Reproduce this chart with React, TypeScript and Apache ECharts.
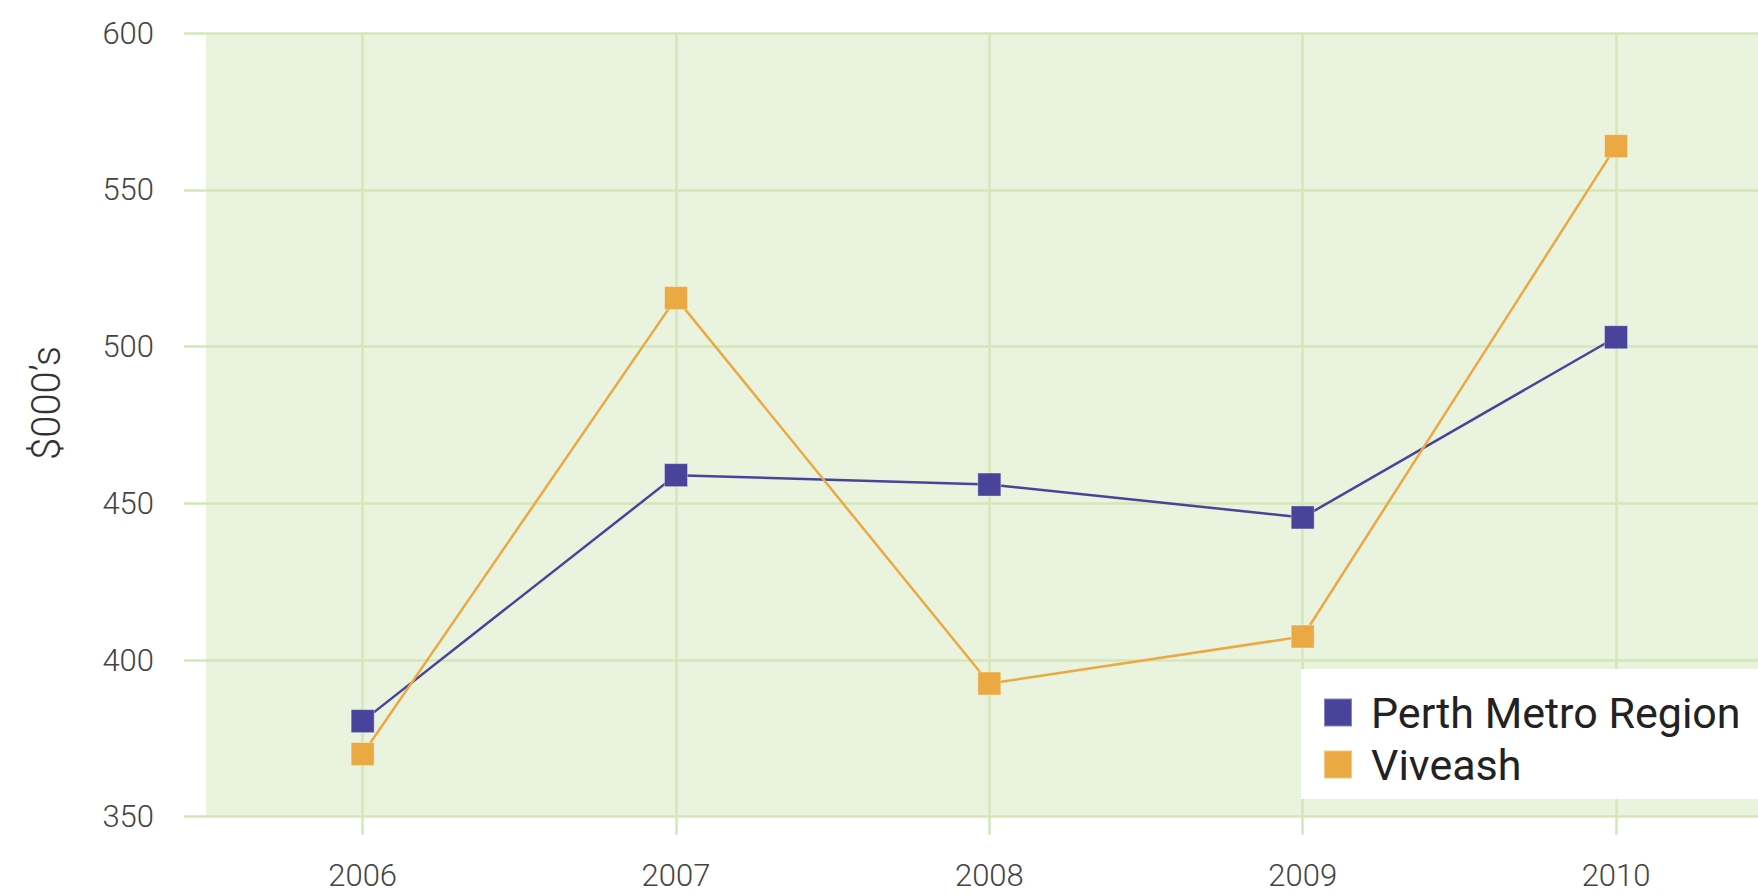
import React, { useEffect, useRef } from "react";
import * as echarts from "echarts";

const years = ["2006", "2007", "2008", "2009", "2010"];
const perthMetro = [380.5, 459, 456, 445.5, 503];
const viveash = [370, 515.5, 392.5, 407.5, 564];
const seriesNames = ["Perth Metro Region", "Viveash"];
const yAxisTitle = "$000’s";

const BLUE = "#48449b";
const ORANGE = "#eba943";
const GRID_LINE = "#d3e7b9";
const BG = "#e9f3de";
const LABEL = "#444";
const FONT = "Roboto, 'Noto Sans', sans-serif";

export default function App() {
  const ref = useRef<HTMLDivElement>(null);
  useEffect(() => {
    if (!ref.current) return;
    const chart = echarts.init(ref.current, undefined, { renderer: "svg" });
    chart.setOption({
      animation: false,
      grid: {
        left: 206,
        top: 33.3,
        height: 783.4,
        right: -14.7,
        show: true,
        backgroundColor: BG,
        borderWidth: 0,
        containLabel: false,
        outerBoundsMode: "none",
      },
      graphic: [
        {
          type: "text",
          x: 46,
          y: 403,
          rotation: Math.PI / 2,
          style: {
            text: yAxisTitle,
            fill: "#333",
            font: `300 40px ${FONT}`,
            align: "center",
            verticalAlign: "middle",
          },
        },
      ],
      legend: {
        orient: "vertical",
        left: 1301,
        top: 669,
        backgroundColor: "#ffffff",
        padding: [22, 60, 13, 22],
        itemWidth: 28,
        itemHeight: 28,
        itemGap: 9,
        icon: "rect",
        data: seriesNames,
        textStyle: {
          fontSize: 43,
          fontFamily: FONT,
          color: "#222",
          padding: [0, 0, 0, 14],
        },
      },
      xAxis: {
        type: "category",
        data: years,
        boundaryGap: true,
        axisLine: { show: false },
        axisTick: {
          show: true,
          alignWithLabel: true,
          length: 18,
          lineStyle: { color: GRID_LINE, width: 2.5 },
        },
        splitLine: {
          show: true,
          alignWithLabel: true,
          lineStyle: { color: GRID_LINE, width: 2.5 },
        },
        axisLabel: {
          margin: 43,
          fontSize: 31,
          fontWeight: 300,
          fontFamily: FONT,
          color: LABEL,
        },
      },
      yAxis: {
        type: "value",
        min: 350,
        max: 600,
        interval: 50,
        axisLine: { show: false },
        axisTick: {
          show: true,
          length: 22,
          lineStyle: { color: GRID_LINE, width: 2.5 },
        },
        splitLine: {
          show: true,
          lineStyle: { color: GRID_LINE, width: 2.5 },
        },
        axisLabel: {
          margin: 52,
          fontSize: 31,
          fontWeight: 300,
          fontFamily: FONT,
          color: LABEL,
        },
      },
      series: [
        {
          name: seriesNames[0],
          type: "line",
          data: perthMetro,
          symbol: "rect",
          symbolSize: 23,
          color: BLUE,
          lineStyle: { color: BLUE, width: 2.5 },
          itemStyle: { color: BLUE, borderColor: "rgba(255,255,255,0.35)", borderWidth: 1 },
        },
        {
          name: seriesNames[1],
          type: "line",
          data: viveash,
          symbol: "rect",
          symbolSize: 23,
          color: ORANGE,
          lineStyle: { color: ORANGE, width: 2.5 },
          itemStyle: { color: ORANGE, borderColor: "rgba(255,255,255,0.35)", borderWidth: 1 },
        },
      ],
    });
    return () => chart.dispose();
  }, []);
  return (
    <div
      ref={ref}
      style={{ position: "fixed", left: 0, top: 0, width: 1758, height: 896, background: "#fff" }}
    />
  );
}
